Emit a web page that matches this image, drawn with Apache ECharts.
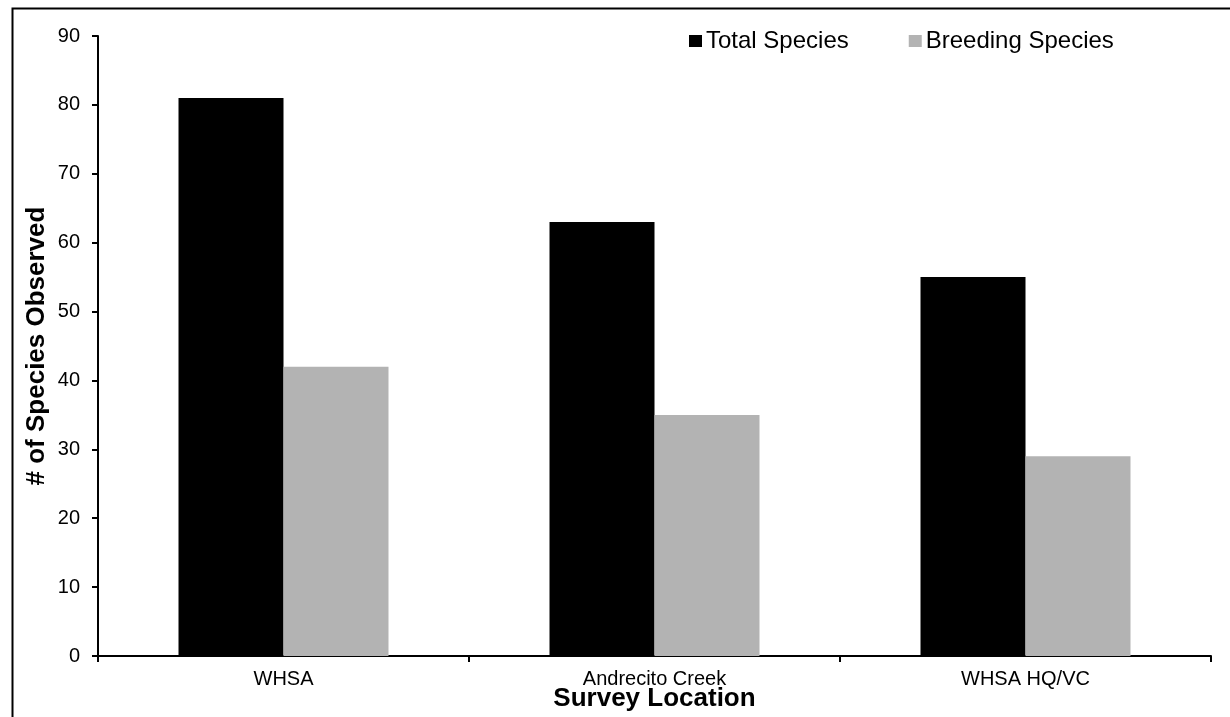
<!DOCTYPE html>
<html><head><meta charset="utf-8">
<script src="https://cdn.jsdelivr.net/npm/echarts@6/dist/echarts.min.js"></script>
<style>html,body{margin:0;padding:0;background:#fff}#c{width:1230px;height:717px}</style>
</head><body><div id="c"></div>
<script>
const categories = ['WHSA', 'Andrecito Creek', 'WHSA HQ/VC'];
const totalSpecies = [81, 63, 55];
const breedingSpecies = [42, 35, 29];
const seriesNames = ['Total Species', 'Breeding Species'];
const yTitle = '# of Species Observed';
const xTitle = 'Survey Location';

const chart = echarts.init(document.getElementById('c'), null, {renderer: 'canvas'});
const font = 'Liberation Sans, Arial, sans-serif';
chart.setOption({
  animation: false,
  backgroundColor: '#fff',
  graphic: [{
    type: 'rect', left: 10, top: 6,
    shape: {width: 1240, height: 730},
    style: {fill: 'none', stroke: '#000', lineWidth: 2}, silent: true, z: -1
  }],
  legend: {
    top: 24, left: 684, itemGap: 60, itemWidth: 13, itemHeight: 12,
    icon: 'rect',
    textStyle: {fontFamily: font, fontSize: 24, color: '#000', padding: [0, 0, 0, -1]},
    data: seriesNames
  },
  grid: {left: 98, right: 19, top: 36, bottom: 61, containLabel: false, outerBoundsMode: 'none'},
  xAxis: {
    type: 'category', data: categories,
    name: xTitle, nameLocation: 'middle', nameGap: 30, nameMoveOverlap: false,
    nameTextStyle: {fontFamily: font, fontSize: 26, fontWeight: 'bold', color: '#000'},
    axisLine: {lineStyle: {color: '#000', width: 2}},
    axisTick: {show: true, length: 6, lineStyle: {color: '#000', width: 2}},
    axisLabel: {fontFamily: font, fontSize: 20, color: '#000', margin: 13}
  },
  yAxis: {
    type: 'value', min: 0, max: 90, interval: 10,
    name: yTitle, nameLocation: 'middle', nameGap: 48, nameMoveOverlap: false,
    nameTextStyle: {fontFamily: font, fontSize: 26, fontWeight: 'bold', color: '#000'},
    axisLine: {show: true, lineStyle: {color: '#000', width: 2}},
    axisTick: {show: true, length: 6, lineStyle: {color: '#000', width: 2}},
    axisLabel: {fontFamily: font, fontSize: 20, color: '#000', margin: 18},
    splitLine: {show: false}
  },
  series: [
    {name: seriesNames[0], type: 'bar', data: totalSpecies, barGap: '0%', barCategoryGap: '43.4%',
     itemStyle: {color: '#000'}},
    {name: seriesNames[1], type: 'bar', data: breedingSpecies, barGap: '0%', barCategoryGap: '43.4%',
     itemStyle: {color: '#b3b3b3'}}
  ]
});
</script></body></html>
